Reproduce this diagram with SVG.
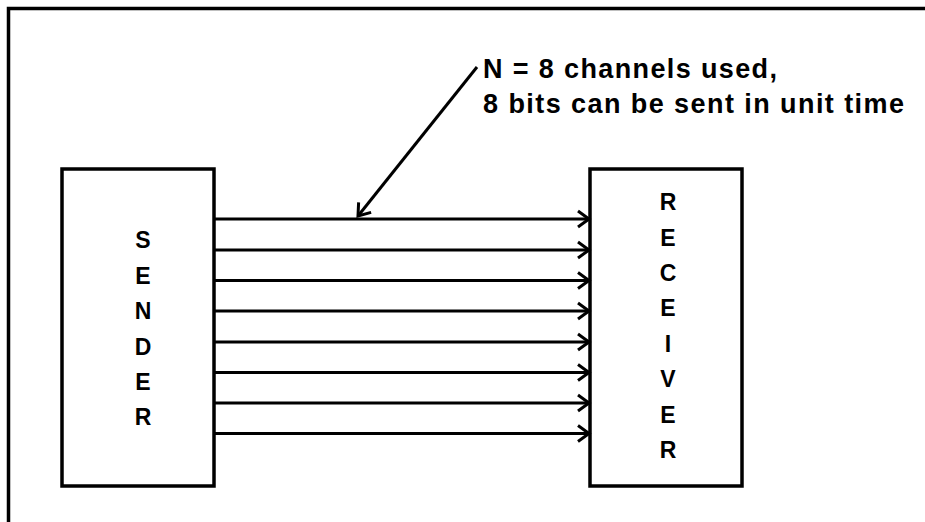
<svg xmlns="http://www.w3.org/2000/svg" width="925" height="522" viewBox="0 0 925 522">
<defs>
<style>
.box{fill:#fff;stroke:#000;stroke-width:3.5}
.ln{stroke:#000;stroke-width:3;fill:none}
.lt{font-family:"Liberation Sans",Arial,sans-serif;font-weight:bold;font-size:23px;fill:#000;text-anchor:middle}
.lb{font-family:"Liberation Sans",Arial,sans-serif;font-weight:bold;font-size:27px;fill:#000}
</style>
<marker id="chev" markerUnits="userSpaceOnUse" markerWidth="24" markerHeight="24" viewBox="-14 -12 24 24" refX="0" refY="0" orient="auto">
<path d="M-11,-8 L0,0 L-11,8" fill="none" stroke="#000" stroke-width="3"/>
</marker>
</defs>
<rect width="925" height="522" fill="#fff"/>
<path d="M8.5,522 V8.5 H925" fill="none" stroke="#000" stroke-width="3.5"/>
<g id="sender">
<rect class="box" x="62" y="169" width="152" height="317"/>
<text class="lt" x="143" y="248">S</text>
<text class="lt" x="143" y="283.5">E</text>
<text class="lt" x="143" y="319">N</text>
<text class="lt" x="143" y="354.5">D</text>
<text class="lt" x="143" y="390">E</text>
<text class="lt" x="143" y="425">R</text>
</g>
<g id="receiver">
<rect class="box" x="590" y="169" width="152" height="317"/>
<text class="lt" x="668" y="210">R</text>
<text class="lt" x="668" y="245.5">E</text>
<text class="lt" x="668" y="281">C</text>
<text class="lt" x="668" y="316">E</text>
<text class="lt" x="668" y="351.5">I</text>
<text class="lt" x="668" y="387">V</text>
<text class="lt" x="668" y="422.5">E</text>
<text class="lt" x="668" y="458">R</text>
</g>
<g id="label">
<text class="lb" x="483" y="78" textLength="294" lengthAdjust="spacing">N = 8 channels used,</text>
<text class="lb" x="483" y="113" textLength="421" lengthAdjust="spacing">8 bits can be sent in unit time</text>
</g>
<g id="connectors">
<line class="ln" x1="214" y1="219" x2="589" y2="219" marker-end="url(#chev)"/>
<line class="ln" x1="214" y1="250" x2="589" y2="250" marker-end="url(#chev)"/>
<line class="ln" x1="214" y1="280.5" x2="589" y2="280.5" marker-end="url(#chev)"/>
<line class="ln" x1="214" y1="311" x2="589" y2="311" marker-end="url(#chev)"/>
<line class="ln" x1="214" y1="342" x2="589" y2="342" marker-end="url(#chev)"/>
<line class="ln" x1="214" y1="372.5" x2="589" y2="372.5" marker-end="url(#chev)"/>
<line class="ln" x1="214" y1="403" x2="589" y2="403" marker-end="url(#chev)"/>
<line class="ln" x1="214" y1="433.5" x2="589" y2="433.5" marker-end="url(#chev)"/>
<line class="ln" x1="477" y1="67" x2="358" y2="216" marker-end="url(#chev)"/>
</g>
</svg>
